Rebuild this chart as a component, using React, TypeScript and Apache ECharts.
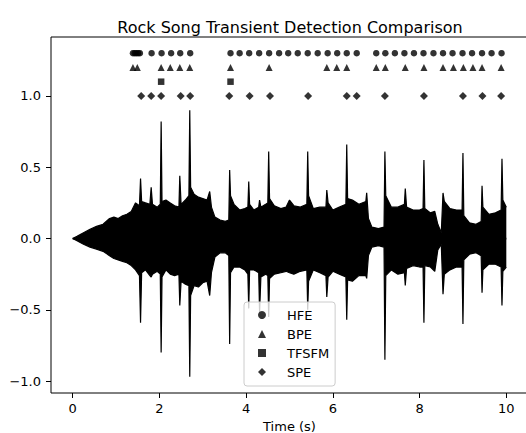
import React, { useEffect, useRef } from "react";
import * as echarts from "echarts";

// Waveform envelope (time s, upper, lower)
const waveTime = [
  0.0, 0.1, 0.25, 0.4, 0.55, 0.7, 0.85, 0.95, 1.05, 1.15, 1.25, 1.35, 1.45, 1.54, 1.565, 1.59, 1.68, 1.78, 1.81, 1.84,
  1.95, 2.02, 2.04, 2.06, 2.15, 2.25, 2.35, 2.45, 2.47, 2.5, 2.6, 2.68, 2.7, 2.72, 2.8, 2.9, 3.0, 3.1, 3.16, 3.2,
  3.28, 3.4, 3.52, 3.6, 3.62, 3.64, 3.72, 3.85, 3.97, 4.04, 4.06, 4.08, 4.18, 4.29, 4.31, 4.34, 4.45, 4.5, 4.52, 4.54,
  4.65, 4.8, 4.92, 5.0, 5.1, 5.25, 5.4, 5.42, 5.44, 5.55, 5.7, 5.84, 5.86, 5.89, 6.0, 6.15, 6.3, 6.32, 6.34, 6.45,
  6.6, 6.76, 6.78, 6.82, 6.9, 7.05, 7.18, 7.2, 7.22, 7.35, 7.5, 7.65, 7.67, 7.7, 7.85, 8.0, 8.08, 8.1, 8.12, 8.25,
  8.35, 8.42, 8.5, 8.54, 8.57, 8.7, 8.85, 8.98, 9.0, 9.02, 9.15, 9.3, 9.42, 9.44, 9.46, 9.6, 9.75, 9.88, 9.9, 9.92, 10.0,
];
const waveUpper = [
  0.0, 0.015, 0.04, 0.065, 0.085, 0.1, 0.14, 0.15, 0.14, 0.16, 0.17, 0.19, 0.25, 0.23, 0.42, 0.26, 0.25, 0.24, 0.36, 0.24,
  0.22, 0.24, 0.82, 0.26, 0.27, 0.25, 0.23, 0.22, 0.44, 0.24, 0.27, 0.3, 0.9, 0.36, 0.31, 0.29, 0.28, 0.27, 0.33, 0.22,
  0.15, 0.13, 0.12, 0.13, 0.48, 0.3, 0.24, 0.2, 0.21, 0.22, 0.4, 0.24, 0.2, 0.22, 0.27, 0.22, 0.24, 0.25, 0.61, 0.28,
  0.23, 0.21, 0.22, 0.27, 0.23, 0.22, 0.24, 0.61, 0.3, 0.21, 0.22, 0.22, 0.34, 0.25, 0.2, 0.22, 0.24, 0.66, 0.28, 0.27,
  0.24, 0.26, 0.32, 0.14, 0.08, 0.07, 0.08, 0.61, 0.3, 0.22, 0.22, 0.24, 0.35, 0.22, 0.2, 0.2, 0.21, 0.55, 0.21, 0.18,
  0.19, 0.1, 0.04, 0.32, 0.26, 0.21, 0.2, 0.2, 0.6, 0.16, 0.11, 0.1, 0.12, 0.37, 0.22, 0.17, 0.18, 0.2, 0.56, 0.27, 0.22,
];
const waveLower = [
  0.0, -0.015, -0.04, -0.06, -0.075, -0.09, -0.12, -0.14, -0.15, -0.16, -0.17, -0.19, -0.22, -0.26, -0.59, -0.24, -0.22, -0.26, -0.27, -0.25,
  -0.23, -0.25, -0.8, -0.27, -0.22, -0.25, -0.26, -0.25, -0.47, -0.3, -0.32, -0.33, -0.97, -0.4, -0.33, -0.34, -0.31, -0.3, -0.4, -0.24,
  -0.13, -0.1, -0.1, -0.12, -0.74, -0.24, -0.2, -0.2, -0.22, -0.25, -0.49, -0.22, -0.22, -0.24, -0.52, -0.27, -0.25, -0.26, -0.55, -0.28,
  -0.25, -0.24, -0.23, -0.24, -0.25, -0.23, -0.22, -0.5, -0.3, -0.22, -0.24, -0.26, -0.41, -0.27, -0.23, -0.25, -0.27, -0.57, -0.29, -0.3,
  -0.26, -0.26, -0.28, -0.12, -0.06, -0.05, -0.06, -0.85, -0.26, -0.22, -0.25, -0.24, -0.33, -0.21, -0.19, -0.2, -0.2, -0.59, -0.19, -0.2,
  -0.23, -0.08, -0.04, -0.39, -0.25, -0.22, -0.2, -0.2, -0.6, -0.15, -0.11, -0.1, -0.12, -0.38, -0.22, -0.18, -0.18, -0.2, -0.47, -0.23, -0.2,
];

// Detected transient times (s)
const hfeTimes = [
  1.39, 1.43, 1.47, 1.51, 1.55, 1.82, 2.05, 2.27, 2.48, 2.71, 3.64, 3.85, 4.07, 4.3, 4.53, 4.76, 4.97, 5.19, 5.42, 5.65,
  5.88, 6.1, 6.32, 6.55, 7.0, 7.21, 7.43, 7.65, 7.87, 8.09, 8.32, 8.54, 8.76, 8.99, 9.21, 9.44, 9.66, 9.89,
];
const bpeTimes = [1.39, 1.49, 2.04, 2.25, 2.47, 2.7, 3.64, 4.53, 5.86, 6.09, 6.32, 7.0, 7.21, 7.67, 8.1, 8.54, 8.78, 9.01, 9.23, 9.44, 9.88];
const tfsfmTimes = [2.04, 3.64];
const speTimes = [1.58, 1.81, 2.04, 2.49, 2.71, 3.61, 4.08, 4.55, 5.43, 6.32, 6.55, 7.2, 8.1, 9.0, 9.45, 9.88];

const methodNames = ["HFE", "BPE", "TFSFM", "SPE"];
const methodLevels = [1.3, 1.2, 1.1, 1.0];
const xTicks = [0, 2, 4, 6, 8, 10];
const yTicks = [-1.0, -0.5, 0.0, 0.5, 1.0];

export default function App() {
  const ref = useRef<HTMLDivElement>(null);
  useEffect(() => {
    if (!ref.current) return;
    const chart = echarts.init(ref.current, null, { renderer: "svg" });
    const font = "DejaVu Sans";
    const timesList = [hfeTimes, bpeTimes, tfsfmTimes, speTimes];
    const symbols = ["circle", "triangle", "rect", "diamond"];
    const sizes = [6.5, 7, 6.5, 8];
    const markerSeries = methodNames.map((name, i) => ({
      name,
      type: "scatter",
      data: timesList[i].map((t) => [t, methodLevels[i]]),
      symbol: symbols[i],
      symbolSize: sizes[i],
      itemStyle: { color: "#000" },
      z: 5,
    }));
    const fmt = (v: number) => Number(v).toFixed(1).replace("-", "\u2212");
    chart.setOption({
      animation: false,
      title: {
        text: "Rock Song Transient Detection Comparison",
        left: 285,
        textAlign: "center",
        top: 14,
        textStyle: { fontFamily: font, fontSize: 16, fontWeight: "normal", color: "#000" },
      },
      grid: {
        left: 51,
        right: -2,
        top: 37,
        bottom: 40,
        show: true,
        borderColor: "#000",
        borderWidth: 1,
        backgroundColor: "transparent",
        containLabel: false,
        outerBoundsMode: "none",
      },
      legend: {
        data: methodNames.map((n, i) => ({ name: n, icon: symbols[i] })),
        orient: "vertical",
        left: 244,
        top: 302,
        padding: [5, 6, 6, 14],
        itemWidth: 8,
        itemHeight: 8,
        itemGap: 3,
        backgroundColor: "rgba(255,255,255,0.8)",
        borderColor: "#cccccc",
        borderWidth: 1,
        borderRadius: 3,
        textStyle: { fontFamily: font, fontSize: 13, color: "#000", lineHeight: 16, padding: [0, 0, 0, 16] },
        z: 10,
      },
      xAxis: {
        type: "value",
        min: -0.5,
        max: 10.5,
        name: "Time (s)",
        nameLocation: "middle",
        nameGap: 27,
        nameTextStyle: { fontFamily: font, fontSize: 13, color: "#000" },
        axisLine: { show: false, onZero: false },
        splitLine: { show: false },
        axisTick: { show: true, length: 5, lineStyle: { color: "#000" }, customValues: xTicks },
        axisLabel: {
          fontFamily: font,
          fontSize: 13,
          color: "#000",
          margin: 9,
          customValues: xTicks,
          formatter: (v: number) => String(v),
        },
      },
      yAxis: {
        type: "value",
        min: -1.0835,
        max: 1.4135,
        axisLine: { show: false, onZero: false },
        splitLine: { show: false },
        axisTick: { show: true, length: 5, lineStyle: { color: "#000" }, customValues: yTicks },
        axisLabel: {
          fontFamily: font,
          fontSize: 13,
          color: "#000",
          margin: 10,
          customValues: yTicks,
          formatter: fmt,
        },
      },
      series: [
        {
          name: "waveUpper",
          type: "line",
          data: waveTime.map((t, i) => [t, waveUpper[i]]),
          showSymbol: false,
          symbol: "none",
          lineStyle: { color: "#000", width: 1.2 },
          areaStyle: { color: "#000", opacity: 1, origin: -0.006 },
          z: 2,
        },
        {
          name: "waveLower",
          type: "line",
          data: waveTime.map((t, i) => [t, waveLower[i]]),
          showSymbol: false,
          symbol: "none",
          lineStyle: { color: "#000", width: 1.2 },
          areaStyle: { color: "#000", opacity: 1, origin: 0.006 },
          z: 2,
        },
        ...markerSeries,
      ],
    });
    return () => chart.dispose();
  }, []);
  return (
    <div
      ref={ref}
      style={{ position: "fixed", left: 0, top: 0, width: 526, height: 433, background: "#fff" }}
    />
  );
}
